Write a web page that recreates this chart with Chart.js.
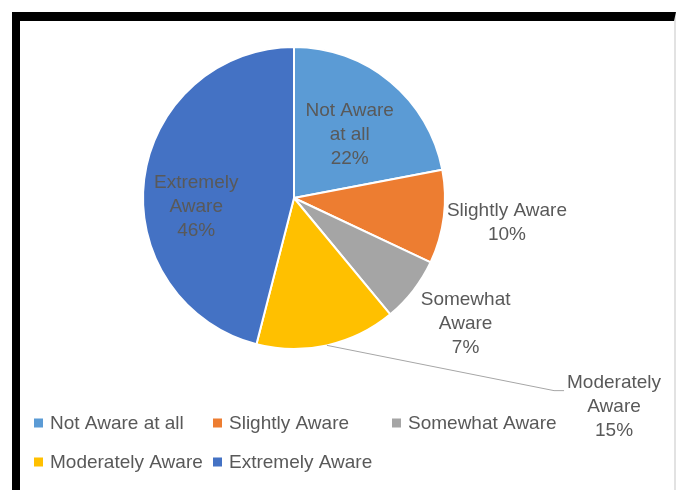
<!DOCTYPE html>
<html>
<head>
<meta charset="utf-8">
<script src="https://cdn.jsdelivr.net/npm/chart.js@4"></script>
<style>
  html, body { margin: 0; padding: 0; background: #fff; }
  #frame {
    position: absolute; left: 12px; top: 12px; right: 0; bottom: 0;
    border-top: 9px solid #000; border-left: 8px solid #000; border-right: 2px solid #e2e2e2;
    background: #fff;
  }
  #chart { position: absolute; left: 0; top: 0; }
</style>
</head>
<body>
<div id="frame"></div>
<canvas id="chart" width="676" height="490"></canvas>
<script>
// awareness levels and their share of respondents (%)
const categories = ['Not Aware at all', 'Slightly Aware', 'Somewhat Aware', 'Moderately Aware', 'Extremely Aware']
const shares = [22, 10, 7, 15, 46]
const colours = ['#5B9BD5', '#ED7D31', '#A5A5A5', '#FFC000', '#4472C4']

// where each data label sits: radius factor, angle shift (deg), wrap width, leader line
const labelPlace = [
      { r: 0.56, shift: 1.6, wrap: 100 },
      { r: 1.42, shift: -0.5, wrap: 130 },
      { r: 1.41, shift: -1.5, wrap: 130 },
      { r: 2.53, shift: -44.3, wrap: 130, leader: true },
      { r: 0.65, shift: -12.4, wrap: 100 }
]

const FONT = '19px "Liberation Sans", Arial, sans-serif'
const TEXT = '#595959'

function wrapText(ctx, txt, maxW) {
      let words = txt.split(' '), lines = [], cur = ''
      words.forEach(w => {
            let t = cur ? cur + ' ' + w : w
            if (cur && ctx.measureText(t).width > maxW) { lines.push(cur); cur = w }
            else cur = t
      })
      if (cur) lines.push(cur)
      return lines
}

const sliceLabels = {
      id: 'sliceLabels',
      afterDatasetsDraw(chart) {
            const ctx = chart.ctx
            const meta = chart.getDatasetMeta(0)
            ctx.save()
            ctx.font = FONT
            ctx.fillStyle = TEXT
            ctx.textAlign = 'center'
            ctx.textBaseline = 'middle'
            meta.data.forEach((arc, i) => {
                  const p = arc.getProps(['x', 'y', 'startAngle', 'endAngle', 'outerRadius'], true)
                  const pl = labelPlace[i]
                  const mid = (p.startAngle + p.endAngle) / 2
                  const a = mid + pl.shift * Math.PI / 180
                  const cx = p.x + Math.cos(a) * p.outerRadius * pl.r
                  const cy = p.y + Math.sin(a) * p.outerRadius * pl.r
                  const lines = wrapText(ctx, chart.data.labels[i], pl.wrap)
                  lines.push(shares[i] + '%')
                  const lh = 24
                  const top = cy - (lines.length - 1) * lh / 2
                  if (pl.leader) {
                        const w0 = ctx.measureText(lines[0]).width
                        const ex = cx - w0 / 2 - 3, ey = top + 8
                        ctx.beginPath()
                        ctx.strokeStyle = '#a6a6a6'
                        ctx.lineWidth = 1
                        ctx.moveTo(p.x + Math.cos(mid) * p.outerRadius, p.y + Math.sin(mid) * p.outerRadius)
                        ctx.lineTo(ex - 10, ey)
                        ctx.lineTo(ex, ey)
                        ctx.stroke()
                  }
                  lines.forEach((ln, k) => ctx.fillText(ln, cx, top + k * lh))
            })
            ctx.restore()
      }
}

// legend laid out on a fixed grid, three columns
const gridLegend = {
      id: 'gridLegend',
      afterDraw(chart) {
            const ctx = chart.ctx
            const colW = 179, x0 = 34, y0 = 423, rowH = 39
            ctx.save()
            ctx.font = FONT
            ctx.textBaseline = 'middle'
            ctx.textAlign = 'left'
            chart.data.labels.forEach((lab, i) => {
                  const x = x0 + (i % 3) * colW
                  const y = y0 + Math.floor(i / 3) * rowH
                  ctx.fillStyle = chart.data.datasets[0].backgroundColor[i]
                  ctx.fillRect(x, y - 4.5, 9, 9)
                  ctx.fillStyle = TEXT
                  ctx.fillText(lab, x + 16, y + 1)
            })
            ctx.restore()
      }
}

new Chart(document.getElementById('chart'), {
      type: 'pie',
      data: {
            labels: categories,
            datasets: [{
                  data: shares,
                  backgroundColor: colours,
                  borderColor: '#ffffff',
                  borderWidth: 2
            }]
      },
      options: {
            responsive: false,
            animation: false,
            layout: { padding: { left: 142, right: 230, top: 46, bottom: 140 } },
            plugins: {
                  legend: { display: false },
                  tooltip: { enabled: false }
            }
      },
      plugins: [sliceLabels, gridLegend]
})
</script>
</body>
</html>
